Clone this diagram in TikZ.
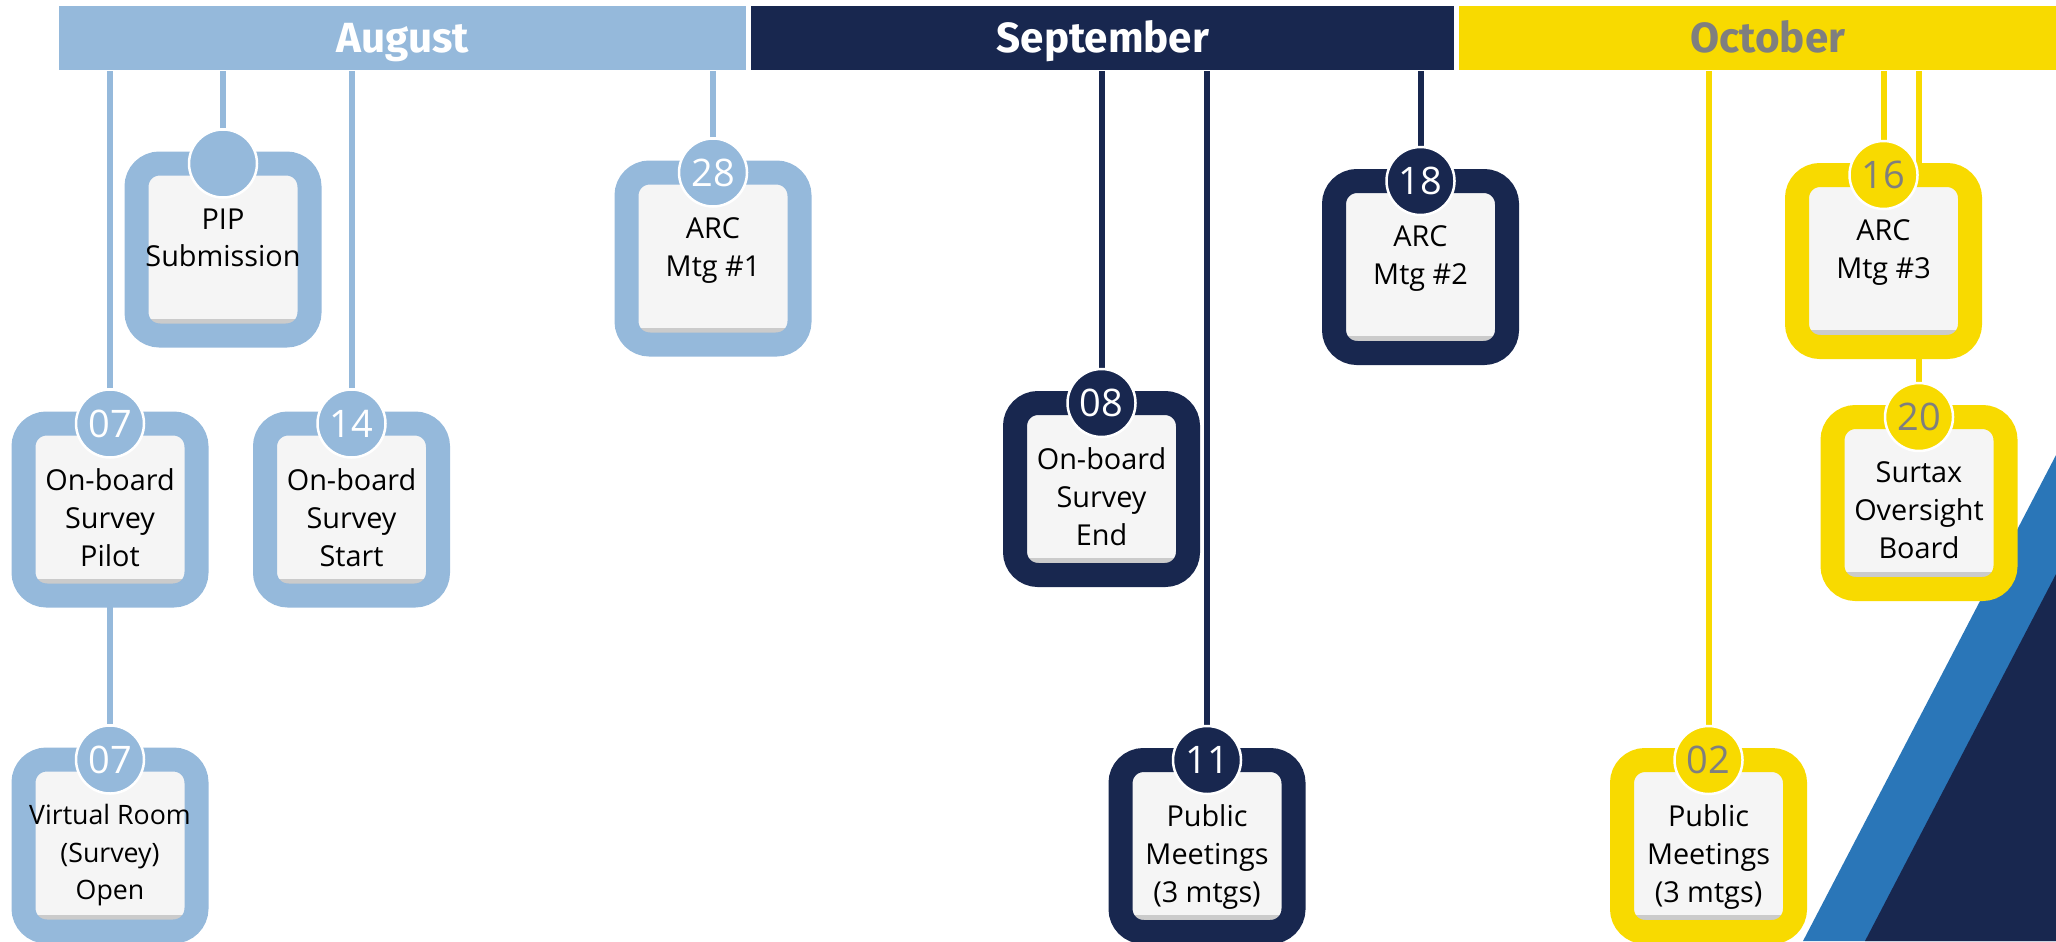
\documentclass[tikz,border=0pt]{standalone}
\usepackage{fontspec}
\setmainfont{Open Sans}
\newfontfamily\headfont{Fira Sans}
\usetikzlibrary{positioning, backgrounds}
\definecolor{augblue}{HTML}{95B9DB}
\definecolor{sepnavy}{HTML}{18274F}
\definecolor{octgold}{HTML}{F8DA00}
\definecolor{octtext}{HTML}{7F7F7F}
\definecolor{cardbg}{HTML}{F5F5F5}
\definecolor{bandblue}{HTML}{2A76B8}

\begin{document}
\begin{tikzpicture}[
    month/.style={rectangle, fill=#1, minimum height=0.64cm, inner sep=0,
                  text height=0.29cm, text depth=0cm,
                  font=\headfont\bfseries\fontsize{12}{14}\selectfont, text=white},
    card/.style={rectangle, draw=#1, fill=cardbg, line width=0.24cm, outer sep=0,
                 rounded corners=0.23cm, minimum width=1.73cm, minimum height=1.72cm,
                 path picture={\shade[sharp corners, top color=cardbg, bottom color=black!22]
                   ([yshift=0.12cm]path picture bounding box.south west) rectangle
                   ([yshift=0.165cm]path picture bounding box.south east);}},
    day/.style={circle, fill=#1, draw=white, line width=0.025cm, minimum size=0.68cm,
                inner sep=0, text=white, font=\fontsize{10.8}{12}\selectfont},
    what/.style={align=center, inner sep=0, font=\fontsize{8.2}{10.8}\selectfont},
    link/.style={draw=#1, line width=0.06cm}
]
    \useasboundingbox (0,0) rectangle (20.56,-9.41);
    \clip (0,0) rectangle (20.56,-9.41);

    % month bar
    \node[month=augblue, minimum width=6.87cm] (aug) at (4.025,-0.38) {August};
    \node[month=sepnavy, minimum width=7.03cm, right=0.04cm of aug] (sep) {September};
    \node[month=octgold, minimum width=6.18cm, right=0.03cm of sep, text=octtext] (oct) {October};

    % corner band
    \fill[bandblue] (18.03,-9.41) -- (20.56,-4.55) -- (20.56,-9.41) -- cycle;
    \fill[sepnavy] (18.65,-9.41) -- (20.56,-5.74) -- (20.56,-9.41) -- cycle;

    % august
    \node[card=augblue] (pip) at (2.23,-2.495) {};
    \node[day=augblue] (pipd) at (pip.north) {};
    \node[what, below=0.09cm of pipd] (pipt) {PIP\\Submission};

    \node[card=augblue] (arc1) at (7.13,-2.585) {};
    \node[day=augblue] (arc1d) at (arc1.north) {28};
    \node[what, below=0.09cm of arc1d] (arc1t) {ARC\\Mtg \#1};

    \node[card=augblue] (pilot) at (1.10,-5.095) {};
    \node[day=augblue] (pilotd) at (pilot.north) {07};
    \node[what, below=0.09cm of pilotd] (pilott) {On-board\\Survey\\Pilot};

    \node[card=augblue] (start) at (3.515,-5.095) {};
    \node[day=augblue] (startd) at (start.north) {14};
    \node[what, below=0.09cm of startd] (startt) {On-board\\Survey\\Start};

    \node[card=augblue] (vroom) at (1.10,-8.455) {};
    \node[day=augblue] (vroomd) at (vroom.north) {07};
    \node[what, below=0.09cm of vroomd, font=\fontsize{7.6}{10.6}\selectfont] (vroomt) {Virtual Room\\(Survey)\\Open};

    % september
    \node[card=sepnavy] (obend) at (11.015,-4.89) {};
    \node[day=sepnavy] (obendd) at (obend.north) {08};
    \node[what, below=0.09cm of obendd] (obendt) {On-board\\Survey\\End};

    \node[card=sepnavy] (arc2) at (14.205,-2.67) {};
    \node[day=sepnavy] (arc2d) at (arc2.north) {18};
    \node[what, below=0.09cm of arc2d] (arc2t) {ARC\\Mtg \#2};

    \node[card=sepnavy] (pub1) at (12.07,-8.46) {};
    \node[day=sepnavy] (pub1d) at (pub1.north) {11};
    \node[what, below=0.09cm of pub1d] (pub1t) {Public\\Meetings\\(3 mtgs)};

    % october
    \node[card=octgold] (pub2) at (17.085,-8.46) {};
    \node[day=octgold, text=octtext] (pub2d) at (pub2.north) {02};
    \node[what, below=0.09cm of pub2d] (pub2t) {Public\\Meetings\\(3 mtgs)};

    \node[card=octgold] (arc3) at (18.835,-2.61) {};
    \node[day=octgold, text=octtext] (arc3d) at (arc3.north) {16};
    \node[what, below=0.09cm of arc3d] (arc3t) {ARC\\Mtg \#3};

    \node[card=octgold] (sob) at (19.19,-5.03) {};
    \node[day=octgold, text=octtext] (sobd) at (sob.north) {20};
    \node[what, below=0.09cm of sobd] (sobt) {Surtax\\Oversight\\Board};

    \begin{scope}[on background layer]
        \draw[link=augblue] (pipd) -- (pipd |- aug.south);
        \draw[link=augblue] (arc1d) -- (arc1d |- aug.south);
        \draw[link=augblue] (pilotd) -- (pilotd |- aug.south);
        \draw[link=augblue] (startd) -- (startd |- aug.south);
        \draw[link=augblue] (pilot) -- (vroomd);
        \draw[link=sepnavy] (obendd) -- (obendd |- sep.south);
        \draw[link=sepnavy] (arc2d) -- (arc2d |- sep.south);
        \draw[link=sepnavy] (pub1d) -- (pub1d |- sep.south);
        \draw[link=octgold] (pub2d) -- (pub2d |- oct.south);
        \draw[link=octgold] (arc3d) -- (arc3d |- oct.south);
        \draw[link=octgold] (sobd) -- (sobd |- oct.south);
    \end{scope}
\end{tikzpicture}
\end{document}
